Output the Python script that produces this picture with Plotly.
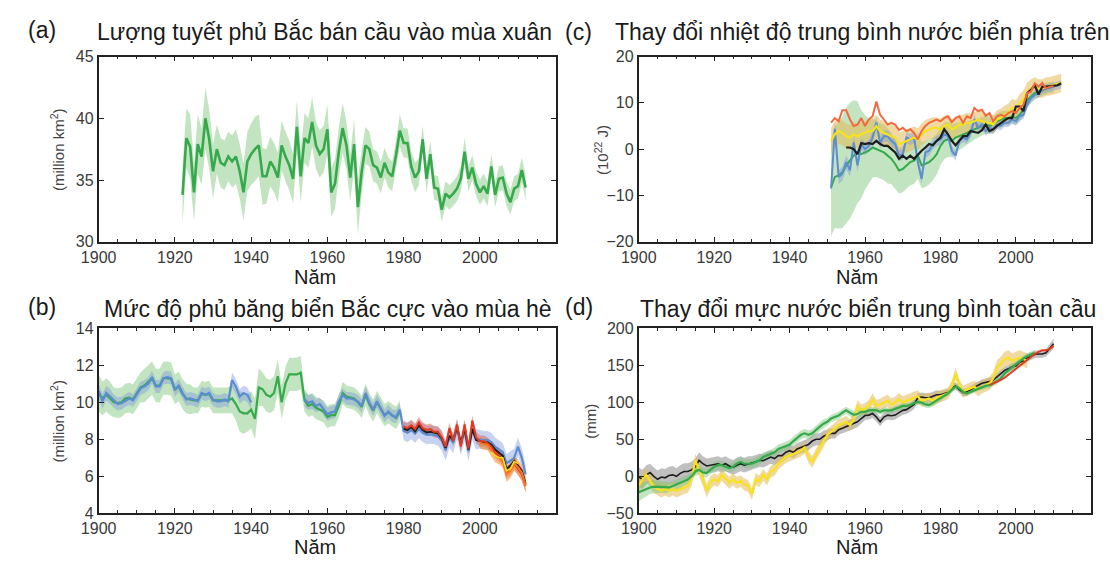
import plotly.graph_objects as go

# ---------------- DATA ----------------
# (a) Northern Hemisphere spring snow cover (million km2)
snow_years = list(range(1922, 2013))
snow_vals = [33.8, 38.4, 37.7, 34.0, 37.9, 36.9, 40.0, 38.3, 35.7, 37.5,
             36.4, 36.2, 36.9, 36.5, 36.9, 35.7, 34.0, 36.5, 37.1, 37.5,
             37.8, 35.3, 35.3, 36.5, 36.0, 35.2, 37.8, 36.9, 36.2, 35.1,
             39.3, 35.3, 38.4, 38.0, 39.7, 37.8, 37.1, 37.5, 39.1, 34.0,
             34.7, 37.3, 39.2, 37.8, 35.2, 37.9, 32.8, 35.7, 37.8, 37.5,
             36.2, 36.0, 35.2, 36.4, 35.6, 35.3, 37.0, 39.0, 38.0, 38.0,
             36.1, 35.2, 35.7, 38.3, 35.1, 37.1, 34.4, 34.3, 32.6, 33.9,
             33.6, 33.9, 34.3, 35.1, 37.3, 35.1, 36.0, 34.7, 34.0, 34.5,
             33.9, 36.1, 33.8, 35.1, 35.2, 33.9, 33.2, 34.3, 34.5, 35.8,
             34.4]
snow_err = [2.3, 2.4, 2.6, 2.3, 2.4, 2.3, 2.5, 2.4, 2.2, 2.0,
            2.0, 2.0, 2.0, 2.1, 2.2, 2.2, 2.3, 2.4, 2.5, 2.6,
            2.5, 2.3, 2.2, 2.0, 2.0, 2.0, 2.0, 2.0, 2.0, 2.0,
            2.2, 2.1, 2.0, 2.0, 2.0, 1.9, 1.9, 1.9, 2.0, 2.0,
            2.0, 2.0, 2.0, 1.9, 1.9, 2.0, 2.2, 1.8, 1.5, 1.4,
            1.3, 1.3, 1.3, 1.2, 1.2, 1.2, 1.2, 1.3, 1.2, 1.2,
            1.2, 1.2, 1.1, 1.1, 1.1, 1.1, 1.0, 1.0, 1.0, 1.0,
            1.0, 1.0, 1.0, 1.0, 1.1, 1.0, 1.0, 1.0, 1.0, 1.0,
            1.0, 1.0, 1.0, 1.0, 1.0, 1.0, 1.0, 1.0, 1.0, 1.0,
            1.0]

# (b) Arctic summer sea-ice extent (million km2)
ice_green_years = list(range(1900, 1980))
ice_green = [10.5, 10.2, 10.4, 10.2, 10.0, 9.95, 10.0, 10.2, 10.25, 10.15,
             10.5, 10.8, 10.9, 11.1, 11.3, 10.9, 10.9, 11.3, 11.3, 11.25,
             10.7, 10.85, 10.45, 10.2, 10.15, 10.1, 10.1, 10.45, 10.4, 10.45,
             10.1, 10.1, 10.1, 10.1, 10.1, 10.2, 9.9, 9.5, 9.4, 9.4,
             9.6, 9.1, 10.8, 10.7, 10.4, 10.3, 10.5, 11.4, 10.0, 11.0,
             11.5, 11.5, 11.5, 11.6, 10.1, 9.8, 9.9, 9.7, 9.6, 9.5,
             9.2, 9.3, 9.3, 9.8, 10.5, 10.3, 10.25, 10.2, 10.0, 9.75,
             10.4, 9.9, 9.55, 10.0, 9.65, 9.3, 9.45, 9.3, 9.15, 9.5]
ice_green_err = [1.0, 0.9, 0.9, 0.9, 0.8, 0.8, 0.8, 0.8, 0.8, 0.8,
                 0.8, 0.8, 0.9, 0.9, 0.9, 0.9, 0.9, 0.9, 0.9, 0.9,
                 0.8, 0.8, 0.8, 0.8, 0.8, 0.7, 0.7, 0.7, 0.7, 0.7,
                 0.7, 0.7, 0.7, 0.7, 0.7, 0.8, 0.9, 1.1, 1.1, 1.0,
                 1.0, 1.1, 1.0, 0.9, 0.9, 0.9, 0.9, 0.9, 0.9, 0.9,
                 0.9, 0.9, 0.9, 0.9, 0.6, 0.6, 0.6, 0.6, 0.6, 0.6,
                 0.6, 0.6, 0.6, 0.6, 0.6, 0.6, 0.6, 0.6, 0.6, 0.6,
                 0.6, 0.6, 0.6, 0.6, 0.6, 0.6, 0.6, 0.6, 0.6, 0.6]
ice_blue1_years = list(range(1900, 1941))
ice_blue1 = [10.6, 10.05, 10.5, 10.3, 10.05, 9.9, 9.95, 10.1, 10.2, 10.1,
             10.4, 10.75, 10.85, 11.0, 11.35, 10.85, 10.85, 11.3, 11.35, 11.3,
             10.65, 10.9, 10.5, 10.15, 10.2, 10.15, 10.05, 10.5, 10.4, 10.5,
             10.15, 10.05, 10.05, 10.15, 10.05, 11.2, 10.85, 10.3, 10.5, 10.4,
             10.0]
ice_blue1_err = [0.4, 0.4, 0.4, 0.4, 0.35, 0.35, 0.35, 0.35, 0.35, 0.35,
                 0.35, 0.35, 0.35, 0.35, 0.35, 0.35, 0.35, 0.35, 0.35, 0.35,
                 0.35, 0.35, 0.35, 0.35, 0.35, 0.35, 0.35, 0.35, 0.35, 0.35,
                 0.35, 0.35, 0.35, 0.35, 0.35, 0.4, 0.4, 0.4, 0.4, 0.4,
                 0.4]
ice_blue2_years = list(range(1954, 2013))
ice_blue2 = [10.15, 9.97, 10.05, 9.8, 9.9, 9.6, 9.35, 9.45, 9.5, 10.05,
             10.4, 10.2, 10.2, 10.15, 10.05, 9.8, 10.5, 9.97, 9.6, 10.05,
             9.7, 9.27, 9.5, 9.27, 9.2, 9.6,
             8.45, 8.35, 8.5, 8.3, 8.55, 8.35, 8.25, 8.25, 8.25, 8.15,
             7.95, 7.4, 8.1, 7.8, 8.55, 7.7, 8.45, 7.35, 8.5, 8.0,
             8.0, 7.95, 7.95, 7.85, 7.6, 7.45, 7.3, 6.7, 6.85, 7.0,
             7.6, 7.0, 6.1]
ice_blue2_err = [0.4, 0.4, 0.4, 0.35, 0.35, 0.35, 0.35, 0.35, 0.35, 0.35,
                 0.35, 0.35, 0.35, 0.35, 0.35, 0.35, 0.35, 0.35, 0.35, 0.35,
                 0.35, 0.35, 0.35, 0.35, 0.35, 0.35,
                 0.5, 0.5, 0.5, 0.5, 0.5, 0.5, 0.5, 0.5, 0.5, 0.5,
                 0.55, 0.55, 0.55, 0.55, 0.55, 0.55, 0.55, 0.55, 0.55, 0.55,
                 0.5, 0.5, 0.5, 0.5, 0.5, 0.5, 0.5, 0.5, 0.5, 0.5,
                 0.5, 0.5, 0.5]
ice_sat_years = list(range(1980, 2013))
ice_black = [8.57, 8.5, 8.66, 8.43, 8.75, 8.5, 8.37, 8.4, 8.37, 8.31,
             8.05, 7.53, 8.2, 7.96, 8.66, 7.8, 8.57, 7.44, 8.57, 7.96,
             7.9, 7.8, 7.84, 7.7, 7.44, 7.27, 7.1, 6.4, 6.57, 6.83,
             6.57, 6.3, 5.6]
ice_red = [8.7, 8.6, 8.75, 8.55, 8.9, 8.6, 8.5, 8.55, 8.4, 8.4,
           8.1, 7.6, 8.6, 7.9, 8.8, 7.6, 8.8, 7.5, 9.0, 8.1,
           7.9, 7.9, 7.8, 7.6, 7.3, 7.1, 6.9, 6.2, 6.4, 6.7,
           6.4, 6.1, 5.5]
ice_red_err = [0.3, 0.3, 0.3, 0.3, 0.3, 0.3, 0.3, 0.3, 0.3, 0.3,
               0.3, 0.3, 0.3, 0.3, 0.3, 0.3, 0.3, 0.3, 0.3, 0.3,
               0.3, 0.3, 0.3, 0.3, 0.3, 0.3, 0.3, 0.35, 0.35, 0.35,
               0.35, 0.35, 0.35]
ice_orange_years = list(range(2000, 2013))
ice_orange = [7.8, 7.75, 7.7, 7.4, 7.1, 7.0, 6.8, 6.1, 6.3, 6.7, 6.5, 6.2, 5.5]
ice_orange_err = [0.3, 0.3, 0.3, 0.35, 0.35, 0.35, 0.35, 0.4, 0.4, 0.4, 0.4, 0.4, 0.4]
ice_yellow_years = list(range(2003, 2011))
ice_yellow = [7.3, 7.1, 7.0, 7.0, 6.3, 6.4, 6.8, 6.7]

# (c) Upper ocean heat content change (10^22 J)
ohc_years = list(range(1951, 2013))
ohc_orange_years = list(range(1951, 2011))
ohc_orange = [5.7, 6.7, 6.0, 8.4, 8.4, 6.4, 5.0, 5.3, 6.7, 5.0,
              6.4, 7.1, 10.3, 7.4, 6.4, 5.3, 5.7, 5.3, 4.1, 4.6,
              3.9, 4.3, 3.5, 2.1, 3.9, 5.0, 5.7, 6.0, 6.4, 6.0,
              6.7, 7.1, 5.8, 6.7, 7.1, 5.7, 7.1, 6.7, 8.9, 8.2,
              8.5, 7.2, 7.8, 6.0, 7.1, 7.4, 7.1, 7.8, 8.2, 7.8,
              8.9, 9.6, 12.1, 12.4, 14.2, 13.5, 14.3, 13.1, 13.5, 13.6]
ohc_black_years = list(range(1955, 2013))
ohc_black = [0.35, 0.35, 0.0, -1.1, 1.3, 1.1, 1.3, 1.1, 1.8, 1.1,
             0.7, 0.7, 0.0, -0.7, -2.1, -1.4, -2.1, -1.4, -2.1, -1.1,
             -0.35, 0.35, 1.1, 0.85, 1.8, 2.5, 4.3, 3.2, 1.8, 0.85,
             1.8, 2.8, 2.8, 3.9, 3.7, 3.5, 4.1, 5.3, 3.9, 4.3,
             5.0, 5.7, 6.2, 6.7, 6.7, 9.2, 9.2, 8.2, 12.1, 12.8,
             13.8, 11.8, 13.5, 13.5, 13.6, 13.8, 13.8, 14.2]
ohc_blue = [-8.5, 4.4, -6.0, -5.3, -2.8, -4.6, 1.4, -3.5, 1.1, 0.0,
            0.7, 2.5, 5.7, 1.4, 2.8, 2.8, 1.8, 1.1, -1.4, -1.1,
            2.5, 2.1, 2.5, -2.8, -6.4, -0.7, -0.35, 1.1, 1.8, 2.1,
            3.2, 2.8, -0.35, -1.4, 1.8, 2.5, 2.1, 3.5, 6.4, 4.6,
            5.3, 3.9, 4.6, 4.3, 5.3, 5.0, 5.7, 5.7, 6.4, 6.0,
            7.1, 7.4, 9.6, 11.0, 11.7, 12.1, 12.8, 13.1, 13.3, 13.5,
            13.8, 14.0]
ohc_blue_err = [1.6, 1.6, 1.5, 1.5, 1.5, 1.4, 1.4, 1.4, 1.3, 1.3,
                1.3, 1.3, 1.3, 1.3, 1.2, 1.2, 1.2, 1.2, 1.2, 1.2,
                1.2, 1.2, 1.2, 1.2, 1.2, 1.2, 1.1, 1.1, 1.1, 1.1,
                1.1, 1.1, 1.1, 1.1, 1.0, 1.0, 1.0, 1.0, 1.0, 1.0,
                1.0, 1.0, 1.0, 1.0, 1.0, 0.9, 0.9, 0.9, 0.9, 0.9,
                0.9, 0.9, 0.9, 0.9, 0.9, 0.9, 0.9, 0.9, 0.9, 0.9,
                0.9, 0.9]
ohc_green_years = list(range(1951, 2011))
ohc_green = [-8.2, -6.0, -5.7, -5.0, -3.5, -2.5, -1.4, -0.7, -1.1, -0.7,
             -0.35, 0.35, 0.0, -0.35, -0.7, -1.4, -2.1, -3.2, -4.6, -4.3,
             -3.5, -2.8, -2.5, -1.4, -3.5, -3.2, -2.8, -2.1, -1.1, 0.7,
             1.8, 2.1, 1.8, 2.5, 2.8, 3.2, 3.5, 3.9, 4.3, 4.6,
             5.0, 5.3, 5.0, 5.3, 6.0, 6.4, 6.7, 6.7, 7.1, 6.7,
             7.4, 8.5, 10.6, 11.3, 12.1, 12.4, 12.8, 13.1, 13.3, 13.5]
ohc_green_err = [10.5, 11.0, 11.5, 12.0, 12.5, 12.5, 12.0, 11.0, 9.5, 8.0,
                 7.0, 6.5, 6.0, 6.0, 6.0, 6.0, 5.5, 5.5, 5.0, 5.0,
                 5.0, 5.0, 5.0, 5.0, 5.0, 5.0, 4.8, 4.6, 4.4, 4.2,
                 4.0, 3.8, 3.5, 3.2, 3.0, 2.8, 2.6, 2.4, 2.2, 2.0,
                 2.0, 1.9, 1.8, 1.8, 1.7, 1.7, 1.6, 1.6, 1.5, 1.5,
                 1.5, 1.5, 1.4, 1.4, 1.4, 1.3, 1.3, 1.3, 1.2, 1.2]
ohc_yellow = [1.8, 3.2, 3.9, 3.5, 2.8, 2.5, 3.2, 2.8, 3.2, 3.5,
              3.9, 3.9, 5.0, 3.9, 3.5, 3.2, 2.8, 2.5, 1.1, 1.4,
              1.8, 2.1, 2.5, 2.1, 3.2, 3.9, 4.3, 4.6, 4.6, 4.3,
              5.0, 5.3, 4.3, 4.6, 5.3, 5.3, 5.7, 5.7, 6.0, 6.4,
              6.0, 5.7, 5.7, 5.3, 6.4, 6.7, 7.4, 7.8, 8.9, 8.5,
              9.9, 10.6, 12.4, 13.1, 13.5, 13.1, 13.1, 13.5, 13.6, 13.8,
              14.0, 14.3]
ohc_yellow_err = [2.8, 2.8, 2.8, 2.7, 2.7, 2.7, 2.6, 2.6, 2.6, 2.5,
                  2.5, 2.5, 2.5, 2.5, 2.5, 2.5, 2.5, 2.5, 2.5, 2.5,
                  2.5, 2.5, 2.4, 2.4, 2.4, 2.4, 2.3, 2.3, 2.3, 2.3,
                  2.2, 2.2, 2.2, 2.2, 2.1, 2.1, 2.1, 2.0, 2.0, 2.0,
                  2.0, 2.0, 2.0, 2.0, 2.0, 2.0, 2.0, 2.0, 2.0, 2.0,
                  2.0, 2.0, 2.0, 2.0, 2.0, 2.0, 2.0, 2.0, 2.0, 2.0,
                  2.0, 2.0]

# (d) Global mean sea level change (mm)
gmsl_black_years = list(range(1900, 2011))
gmsl_black = [-1, -4, 2, 5, 0, -4, -1, -2, 1, 2,
              0, 4, 6.5, 6.5, 8.7, 13, 21.6, 17, 14, 15,
              15, 17, 15, 17, 14, 12, 15, 17, 15, 17,
              18, 19.5, 21.6, 21, 24, 26, 24, 28, 28, 32.5,
              34.6, 32.5, 37, 39, 41, 43, 47.6, 50, 50, 54,
              56, 58, 58, 63, 65, 67, 69, 71, 73.6, 78,
              82, 82.6, 84.7, 80, 73.6, 80, 82.6, 81.7, 82.6, 86,
              89, 90, 93, 97, 106, 107, 106, 106, 108, 110,
              110, 112, 113, 119, 122, 117, 113, 114, 117, 121,
              123, 125.5, 126.4, 128, 130, 134.5, 138.5, 143, 145, 148,
              149, 154, 156, 160, 162, 164.5, 165, 165, 166.7, 173,
              179]
gmsl_black_err = [13, 13, 13, 12, 12, 12, 12, 12, 12, 12,
                  11, 11, 11, 11, 11, 11, 11, 10, 10, 10,
                  10, 10, 10, 10, 10, 10, 10, 10, 10, 10,
                  9, 9, 9, 9, 9, 9, 9, 9, 9, 9,
                  8, 8, 8, 8, 8, 8, 8, 8, 8, 8,
                  7, 7, 7, 7, 7, 7, 7, 7, 7, 7,
                  6, 6, 6, 6, 6, 6, 6, 6, 6, 6,
                  6, 6, 6, 6, 6, 6, 6, 6, 6, 6,
                  5, 5, 5, 5, 5, 5, 5, 5, 5, 5,
                  5, 5, 5, 5, 5, 5, 5, 5, 5, 5,
                  5, 5, 5, 5, 5, 5, 5, 5, 5, 6,
                  7]
gmsl_green_years = list(range(1900, 2006))
gmsl_green = [-21.6, -19.5, -17, -15, -14, -14, -14, -15, -15, -13,
              -11, -9, -6.5, -4.3, 0, 6.5, 8.7, 5.2, 4.3, 8.7,
              13, 15, 15, 13, 11, 13, 17, 19.5, 17, 17,
              17, 19.5, 21.6, 26, 28, 30, 32.5, 37, 39, 41,
              43, 47.6, 52, 56, 58, 56, 58, 63, 67, 71,
              73.6, 78, 80, 82, 86, 89, 86, 83, 84, 87,
              87, 89, 89.6, 89, 87, 89, 89, 89, 91, 93,
              95, 95, 96, 99, 100, 99.6, 97, 96, 99, 102,
              105, 108, 112, 117, 121, 119, 114, 112, 114, 117,
              119, 121, 122, 123, 125.5, 128, 132, 138.5, 143, 147,
              151.5, 156, 159, 162, 164, 166.7]
gmsl_green_err = [12, 11, 10, 9, 9, 8, 8, 8, 7, 7,
                  7, 7, 6, 6, 6, 6, 6, 6, 6, 6,
                  6, 6, 6, 6, 6, 6, 6, 6, 6, 6,
                  6, 6, 6, 6, 6, 6, 6, 6, 6, 6,
                  6, 6, 6, 6, 6, 6, 6, 6, 6, 6,
                  5, 5, 5, 5, 5, 5, 5, 5, 5, 5,
                  4, 4, 4, 4, 4, 4, 4, 4, 4, 4,
                  4, 4, 4, 4, 4, 4, 4, 4, 4, 4,
                  4, 4, 4, 4, 4, 4, 4, 4, 4, 4,
                  4, 4, 4, 4, 4, 4, 4, 4, 4, 4,
                  4, 4, 4, 4, 4, 4]
gmsl_yellow_years = list(range(1900, 2004))
gmsl_yellow = [-13, -4, 2, -6.5, -13, -17, -19.5, -17, -19.5, -17,
               -19.5, -17, -15, -13, -4, 21.6, 8.7, -4, -19.5, -8.7,
               -4, -6.5, 2, -4, -8.7, -4, -8.7, -6.5, -11, -13,
               -24, -4, -6.5, 2, -4, 6.5, 8.7, 17, 21.6, 26,
               28, 30, 32.5, 34.6, 39, 26, 19.5, 30, 39, 47.6,
               56, 60, 65, 69, 71, 73.6, 69, 76, 95, 89,
               91, 95, 104, 95, 97, 99.6, 102, 97, 99.6, 104,
               100, 102, 104, 106, 108, 102, 104, 105, 102, 106,
               108, 110, 112, 121, 138.5, 123, 114, 117, 119, 121,
               117, 121, 123, 125.5, 132, 147, 151.5, 158, 160, 156,
               158, 160, 158, 156]
gmsl_yellow_err = [9, 9, 9, 9, 9, 9, 9, 9, 9, 9,
                   9, 9, 9, 9, 9, 9, 9, 9, 9, 9,
                   8, 8, 8, 8, 8, 8, 8, 8, 8, 8,
                   8, 8, 8, 8, 8, 8, 8, 8, 8, 8,
                   8, 8, 8, 8, 8, 8, 8, 8, 8, 8,
                   8, 8, 8, 8, 8, 8, 8, 8, 8, 8,
                   8, 8, 8, 8, 8, 8, 8, 8, 8, 8,
                   8, 8, 8, 8, 8, 8, 8, 8, 8, 8,
                   8, 8, 8, 8, 8, 8, 8, 8, 8, 8,
                   9, 9, 9, 9, 9, 10, 10, 10, 10, 10,
                   10, 10, 10, 10]
gmsl_red_years = list(range(1993, 2011))
gmsl_red = [123, 125, 127, 130, 133, 137, 142, 146, 150, 153,
            157, 161, 165, 168, 170, 170, 172, 176]

x_tickvals = [1900, 1920, 1940, 1960, 1980, 2000]

# ---------------- STYLE ----------------
W, H = 1110, 567
FONT = "Liberation Sans, Arial, sans-serif"
TICK_COL = "#3a3a3a"

C_GREEN = "#35A94B"
C_BLUE = "#5B8DD0"
C_RED = "#E5381F"
C_ORANGE = "#F47A22"
C_YELLOW = "#F8E21C"
C_TOMATO = "#F2683F"
C_BLACK = "#1E1E1E"

B_GREEN = "rgba(120,195,115,0.45)"
B_BLUE = "rgba(125,150,225,0.42)"
B_RED = "rgba(215,80,55,0.45)"
B_ORANGE = "rgba(245,140,50,0.55)"
B_TAN = "rgba(228,185,85,0.55)"
B_GRAY = "rgba(130,130,130,0.5)"

fig = go.Figure()


def band(x, y, err, color, ax):
    xs = list(x) + list(x)[::-1]
    ys = [v + e for v, e in zip(y, err)] + [v - e for v, e in zip(y, err)][::-1]
    fig.add_trace(go.Scatter(x=xs, y=ys, fill="toself", fillcolor=color,
                             line=dict(width=0), mode="lines", hoverinfo="skip",
                             showlegend=False, xaxis="x" + ax, yaxis="y" + ax))


def line(x, y, color, ax, width=2.0):
    fig.add_trace(go.Scatter(x=x, y=y, mode="lines",
                             line=dict(color=color, width=width),
                             showlegend=False, xaxis="x" + ax, yaxis="y" + ax))


# (a) -> axis "" (x, y)
band(snow_years, snow_vals, snow_err, B_GREEN, "")
line(snow_years, snow_vals, C_GREEN, "", 2.6)

# (b) -> axis "3"
band(ice_green_years, ice_green, ice_green_err, B_GREEN, "3")
band(ice_blue1_years, ice_blue1, ice_blue1_err, B_BLUE, "3")
band(ice_blue2_years, ice_blue2, ice_blue2_err, B_BLUE, "3")
band(ice_sat_years, ice_red, ice_red_err, B_RED, "3")
band(ice_orange_years, ice_orange, ice_orange_err, B_ORANGE, "3")
line(ice_green_years, ice_green, C_GREEN, "3", 2.2)
line(ice_blue1_years, ice_blue1, C_BLUE, "3", 2.2)
line(ice_blue2_years, ice_blue2, C_BLUE, "3", 2.2)
line(ice_sat_years, ice_black, C_BLACK, "3", 2.0)
line(ice_sat_years, ice_red, C_RED, "3", 2.0)
line(ice_orange_years, ice_orange, C_ORANGE, "3", 2.0)
line(ice_yellow_years, ice_yellow, C_YELLOW, "3", 1.6)

# (c) -> axis "2"
band(ohc_green_years, ohc_green, ohc_green_err, B_GREEN, "2")
band(ohc_years, ohc_yellow, ohc_yellow_err, B_TAN, "2")
band(ohc_years, ohc_blue, ohc_blue_err, B_BLUE, "2")
line(ohc_green_years, ohc_green, C_GREEN, "2", 2.0)
line(ohc_years, ohc_blue, C_BLUE, "2", 2.0)
line(ohc_years, ohc_yellow, C_YELLOW, "2", 2.2)
line(ohc_black_years, ohc_black, C_BLACK, "2", 2.2)
line(ohc_orange_years, ohc_orange, C_TOMATO, "2", 2.0)

# (d) -> axis "4"
band(gmsl_black_years, gmsl_black, gmsl_black_err, B_GRAY, "4")
band(gmsl_yellow_years, gmsl_yellow, gmsl_yellow_err, B_TAN, "4")
band(gmsl_green_years, gmsl_green, gmsl_green_err, B_GREEN, "4")
line(gmsl_black_years, gmsl_black, C_BLACK, "4", 1.6)
line(gmsl_yellow_years, gmsl_yellow, C_YELLOW, "4", 2.2)
line(gmsl_green_years, gmsl_green, C_GREEN, "4", 2.2)
line(gmsl_red_years, gmsl_red, C_RED, "4", 2.0)

# ---------------- LAYOUT ----------------
def px_x(p):
    return p / W


def px_y(p):
    return 1 - p / H


dom_left = [px_x(82), px_x(547)]
dom_right = [px_x(631), px_x(1091)]
dom_top = [px_y(241), px_y(50)]
dom_bot = [px_y(521), px_y(330)]

tickfont = dict(family=FONT, size=16, color=TICK_COL)


def xaxis(domain, anchor):
    return dict(domain=domain, anchor=anchor, range=[1900, 2020],
                tickmode="array", tickvals=x_tickvals, ticks="inside",
                ticklen=5, tickwidth=1.3, tickcolor="#222",
                minor=dict(dtick=5, tick0=1900, ticks="inside", ticklen=3,
                           tickwidth=1, tickcolor="#222"),
                showline=True, linecolor="#222", linewidth=1.8, mirror="ticks",
                showgrid=False, zeroline=False, tickfont=tickfont)


def yaxis(domain, anchor, rng, dtick):
    return dict(domain=domain, anchor=anchor, range=rng, dtick=dtick,
                tick0=rng[0], ticks="inside", ticklen=5, tickwidth=1.3,
                tickcolor="#222", showline=True, linecolor="#222",
                linewidth=1.8, mirror="ticks", showgrid=False, zeroline=False,
                tickfont=tickfont)


annotations = []


def text(px, py, s, size, color="#1a1a1a", angle=0, xanchor="center"):
    annotations.append(dict(x=px_x(px), y=px_y(py), xref="paper", yref="paper",
                            text=s, showarrow=False, textangle=angle,
                            xanchor=xanchor, yanchor="middle",
                            font=dict(family=FONT, size=size, color=color)))


TSIZE = 23
text(8, 23, "(a)", TSIZE, xanchor="left")
text(312, 25, "Lượng tuyết phủ Bắc bán cầu vào mùa xuân", TSIZE)
text(554, 25, "(c)", TSIZE, xanchor="left")
text(858, 25, "Thay đổi nhiệt độ trung bình nước biển phía trên", TSIZE)
text(8, 308, "(b)", TSIZE, xanchor="left")
text(315, 310, "Mức độ phủ băng biển Bắc cực vào mùa hè", TSIZE)
text(554, 308, "(d)", TSIZE, xanchor="left")
text(864, 310, "Thay đổi mực nước biển trung bình toàn cầu", TSIZE)

NSIZE = 20
text(302, 277, "Năm", NSIZE)
text(302, 556, "Năm", NSIZE)
text(853, 277, "Năm", NSIZE)
text(853, 556, "Năm", NSIZE)

YSIZE = 15
text(40, 146, "(million km<sup>2</sup>)", YSIZE, color="#444", angle=-90)
text(40, 426, "(million km<sup>2</sup>)", YSIZE, color="#444", angle=-90)
text(593, 146, "(10<sup>22</sup> J)", YSIZE, color="#444", angle=-90)
text(582, 426, "(mm)", YSIZE, color="#444", angle=-90)

fig.update_layout(
    width=W, height=H,
    margin=dict(l=0, r=0, t=0, b=0),
    paper_bgcolor="white", plot_bgcolor="white",
    showlegend=False,
    xaxis=xaxis(dom_left, "y"),
    yaxis=yaxis(dom_top, "x", [30, 45], 5),
    xaxis2=xaxis(dom_right, "y2"),
    yaxis2=yaxis(dom_top, "x2", [-20, 20], 10),
    xaxis3=xaxis(dom_left, "y3"),
    yaxis3=yaxis(dom_bot, "x3", [4, 14], 2),
    xaxis4=xaxis(dom_right, "y4"),
    yaxis4=yaxis(dom_bot, "x4", [-50, 200], 50),
    annotations=annotations,
)

fig.write_html("out.html")
